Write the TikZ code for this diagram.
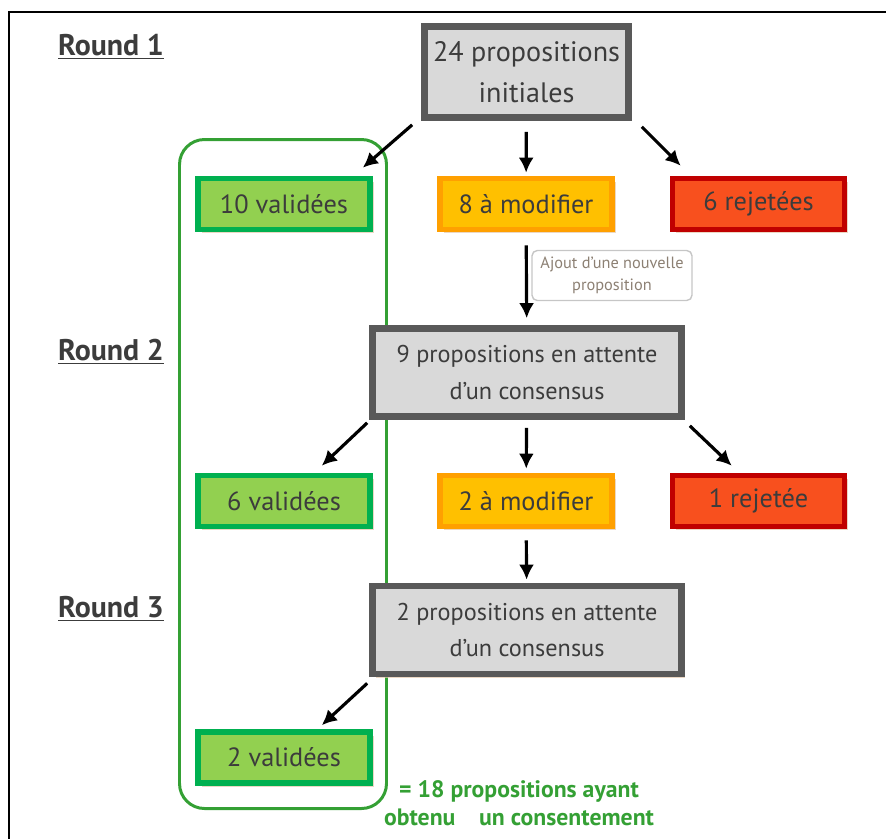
\documentclass[tikz,border=0pt]{standalone}
\usepackage{fontspec}
\setmainfont{PT Sans}
\usepackage{tikz}
\usetikzlibrary{arrows.meta,positioning,shadows}

\definecolor{boxgray}{HTML}{D9D9D9}
\definecolor{boxdark}{HTML}{595959}
\definecolor{okgreen}{HTML}{00B050}
\definecolor{okfill}{HTML}{92D050}
\definecolor{modborder}{HTML}{FFA000}
\definecolor{modfill}{HTML}{FFC000}
\definecolor{rejborder}{HTML}{C00000}
\definecolor{rejfill}{HTML}{F8501E}
\definecolor{groupgreen}{HTML}{34A034}
\definecolor{textdark}{HTML}{3C3C3C}

\begin{document}
\begin{tikzpicture}[
    pending/.style={draw=boxdark, line width=3.8pt, fill=boxgray, align=center, text=textdark,
        font=\fontsize{13.8}{21}\selectfont, minimum width=6.18cm, minimum height=1.76cm,
        drop shadow={shadow xshift=2pt, shadow yshift=-2pt, fill=brown!45, opacity=0.7}},
    outcome/.style={line width=3.2pt, align=center, text=textdark, font=\fontsize{15}{17}\selectfont,
        minimum width=3.44cm, minimum height=1.02cm,
        drop shadow={shadow xshift=2pt, shadow yshift=-2pt, fill=brown!45, opacity=0.7}},
    accepted/.style={outcome, draw=okgreen, fill=okfill},
    tomodify/.style={outcome, draw=modborder, fill=modfill},
    rejected/.style={outcome, draw=rejborder, fill=rejfill},
    note/.style={draw=gray!45, rounded corners=3pt, line width=0.8pt, align=center, text=gray!80!brown,
        font=\fontsize{9.3}{12.5}\selectfont, minimum width=3.2cm, minimum height=1.0cm},
    roundlabel/.style={font=\fontsize{17}{19}\selectfont\bfseries, text=textdark},
    flowedge/.style={-{Latex[length=3mm,width=3mm]}, line width=1.8pt}
]
    \useasboundingbox (0,0) rectangle (17.72,-16.76);
    % frame of the figure
    \draw[line width=1.1pt] (0.18,-16.9) -- (0.18,-0.24) -- (17.9,-0.24);

    % rounds
    \node[roundlabel] (round1) at (2.22,-0.94) {\underline{Round 1}};
    \node[roundlabel] (round2) at (2.22,-7.04) {\underline{Round 2}};
    \node[roundlabel] (round3) at (2.22,-12.18) {\underline{Round 3}};

    % green group of accepted proposals
    \node[draw=groupgreen, line width=1.7pt, rounded corners=0.5cm, minimum width=4.14cm,
        minimum height=13.38cm] (group) at (5.66,-9.48) {};

    \node[pending, font=\fontsize{16}{23}\selectfont, minimum width=4.08cm, minimum height=1.82cm]
        (top) at (10.53,-1.44) {24 propositions\\initiales};
    \node[accepted] (val1) at (5.68,-4.08) {10 validées};
    \node[tomodify] (mod1) at (10.52,-4.08) {8 à modifier};
    \node[rejected] (rej1) at (15.17,-4.08) {6 rejetées};
    \node[note] (add) at (12.24,-5.51) {Ajout d'une nouvelle\\proposition};
    \node[pending] (wait1) at (10.54,-7.45) {9 propositions en attente\\d'un consensus};
    \node[accepted] (val2) at (5.68,-10.02) {6 validées};
    \node[tomodify] (mod2) at (10.52,-10.02) {2 à modifier};
    \node[rejected] (rej2) at (15.17,-10.02) {1 rejetée};
    \node[pending] (wait2) at (10.54,-12.6) {2 propositions en attente\\d'un consensus};
    \node[accepted] (val3) at (5.68,-15.15) {2 validées};
    \node[text=groupgreen, font=\fontsize{13.5}{15.8}\selectfont\bfseries, align=center] (total)
        at (10.38,-16.06) {= 18 propositions ayant\\obtenu\quad un consentement};

    \draw[flowedge] ([shift={(-0.18,-0.08)}]top.south west) -- ([shift={(-0.2,0.16)}]val1.north east);
    \draw[flowedge, shorten <=2.2mm, shorten >=0.6mm] (top) -- (mod1);
    \draw[flowedge] ([shift={(0.2,-0.12)}]top.south east) -- ([shift={(0.22,0.2)}]rej1.north west);
    \draw[flowedge, shorten <=2.6mm, shorten >=1.4mm] (mod1) -- (wait1);
    \draw[flowedge] ([shift={(-0.04,-0.06)}]wait1.south west) -- ([shift={(-1.02,0.14)}]val2.north east);
    \draw[flowedge, shorten <=1.6mm, shorten >=0.8mm] (wait1) -- (mod2);
    \draw[flowedge] ([shift={(0.1,-0.12)}]wait1.south east) -- ([shift={(1.24,0.14)}]rej2.north west);
    \draw[flowedge, shorten <=2.2mm, shorten >=0.6mm] (mod2) -- (wait2);
    \draw[flowedge] ([shift={(-0.04,-0.12)}]wait2.south west) -- ([shift={(-1.02,0.08)}]val3.north east);
\end{tikzpicture}
\end{document}
